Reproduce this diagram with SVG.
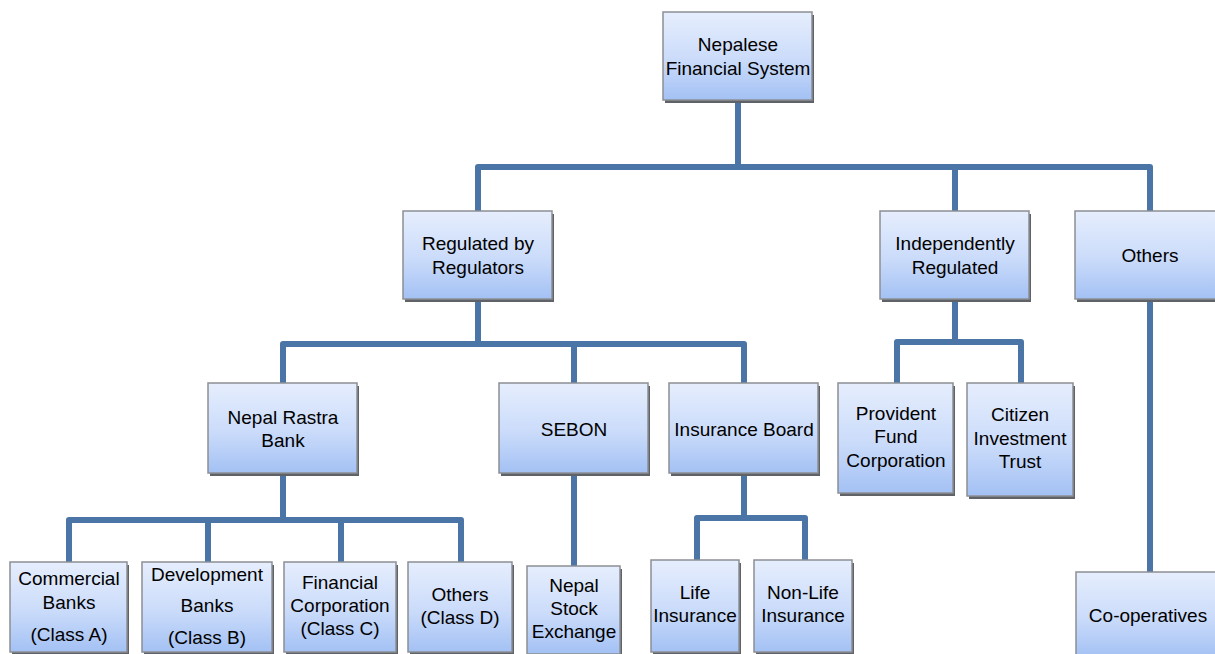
<svg xmlns="http://www.w3.org/2000/svg" width="1215" height="654" viewBox="0 0 1215 654">
<defs>
<linearGradient id="g" x1="0" y1="0" x2="0" y2="1">
<stop offset="0" stop-color="#e6eefd"/>
<stop offset="0.55" stop-color="#cadbfa"/>
<stop offset="1" stop-color="#a3c1f4"/>
</linearGradient>
<style>
.sh{fill:#5f6266}
.bx{fill:url(#g);stroke:#8c8f94;stroke-width:1.5}
.t{font-family:"Liberation Sans",Arial,sans-serif;font-size:19px;fill:#000;text-anchor:middle}
.c{fill:none;stroke:#4a75a6;stroke-width:6;stroke-linejoin:round;stroke-linecap:butt}
</style>
</defs>
<rect width="1215" height="654" fill="#fff"/>
<g id="connectors">
<path class="c" d="M738 100V167M478 211V167H1150V211M955 167V211"/>
<path class="c" d="M478 299V344M283 383V344H744V383M574 344V383"/>
<path class="c" d="M955 299V342M897 383V342H1021V383"/>
<path class="c" d="M1150 299V572"/>
<path class="c" d="M283 473V520M69 562V520H461V562M208 520V562M341 520V562"/>
<path class="c" d="M574 473V566"/>
<path class="c" d="M744 473V518M697 560V518H805V560"/>
</g>
<g id="n-root"><rect class="sh" x="665" y="15" width="149" height="88"/><rect class="bx" x="663" y="12" width="149" height="88"/><text class="t" x="738" y="51">Nepalese</text><text class="t" x="738" y="75">Financial System</text></g>
<g id="n-regulated"><rect class="sh" x="405" y="214" width="149" height="88"/><rect class="bx" x="403" y="211" width="149" height="88"/><text class="t" x="478" y="250">Regulated by</text><text class="t" x="478" y="274">Regulators</text></g>
<g id="n-independent"><rect class="sh" x="882" y="214" width="149" height="88"/><rect class="bx" x="880" y="211" width="149" height="88"/><text class="t" x="955" y="250">Independently</text><text class="t" x="955" y="274">Regulated</text></g>
<g id="n-others"><rect class="sh" x="1077" y="214" width="149" height="88"/><rect class="bx" x="1075" y="211" width="149" height="88"/><text class="t" x="1150" y="262">Others</text></g>
<g id="n-nrb"><rect class="sh" x="210" y="386" width="149" height="90"/><rect class="bx" x="208" y="383" width="149" height="90"/><text class="t" x="283" y="424">Nepal Rastra</text><text class="t" x="283" y="447">Bank</text></g>
<g id="n-sebon"><rect class="sh" x="501" y="386" width="149" height="90"/><rect class="bx" x="499" y="383" width="149" height="90"/><text class="t" x="574" y="436">SEBON</text></g>
<g id="n-ib"><rect class="sh" x="671" y="386" width="149" height="90"/><rect class="bx" x="669" y="383" width="149" height="90"/><text class="t" x="744" y="436">Insurance Board</text></g>
<g id="n-pfc"><rect class="sh" x="840" y="386" width="115" height="110"/><rect class="bx" x="838" y="383" width="115" height="110"/><text class="t" x="896" y="420">Provident</text><text class="t" x="896" y="443">Fund</text><text class="t" x="896" y="467">Corporation</text></g>
<g id="n-cit"><rect class="sh" x="969" y="386" width="106" height="113"/><rect class="bx" x="967" y="383" width="106" height="113"/><text class="t" x="1020" y="421">Citizen</text><text class="t" x="1020" y="445">Investment</text><text class="t" x="1020" y="468">Trust</text></g>
<g id="n-coop"><rect class="sh" x="1078" y="575" width="149" height="85"/><rect class="bx" x="1076" y="572" width="149" height="85"/><text class="t" x="1148" y="622">Co-operatives</text></g>
<g id="n-cb"><rect class="sh" x="12" y="565" width="117" height="92"/><rect class="bx" x="10" y="562" width="117" height="90"/><text class="t" x="69" y="585">Commercial</text><text class="t" x="69" y="609">Banks</text><text class="t" x="69" y="641">(Class A)</text></g>
<g id="n-db"><rect class="sh" x="144" y="565" width="130" height="92"/><rect class="bx" x="142" y="562" width="130" height="90"/><text class="t" x="207" y="581">Development</text><text class="t" x="207" y="612">Banks</text><text class="t" x="207" y="644">(Class B)</text></g>
<g id="n-fc"><rect class="sh" x="286" y="565" width="112" height="92"/><rect class="bx" x="284" y="562" width="112" height="90"/><text class="t" x="340" y="589">Financial</text><text class="t" x="340" y="612">Corporation</text><text class="t" x="340" y="635">(Class C)</text></g>
<g id="n-od"><rect class="sh" x="410" y="565" width="104" height="92"/><rect class="bx" x="408" y="562" width="104" height="90"/><text class="t" x="460" y="601">Others</text><text class="t" x="460" y="624">(Class D)</text></g>
<g id="n-nse"><rect class="sh" x="529" y="569" width="93" height="90"/><rect class="bx" x="527" y="566" width="93" height="88"/><text class="t" x="574" y="592">Nepal</text><text class="t" x="574" y="615">Stock</text><text class="t" x="574" y="638">Exchange</text></g>
<g id="n-life"><rect class="sh" x="653" y="563" width="88" height="92"/><rect class="bx" x="651" y="560" width="88" height="92"/><text class="t" x="695" y="599">Life</text><text class="t" x="695" y="622">Insurance</text></g>
<g id="n-nonlife"><rect class="sh" x="756" y="563" width="98" height="92"/><rect class="bx" x="754" y="560" width="98" height="92"/><text class="t" x="803" y="599">Non-Life</text><text class="t" x="803" y="622">Insurance</text></g>
</svg>
